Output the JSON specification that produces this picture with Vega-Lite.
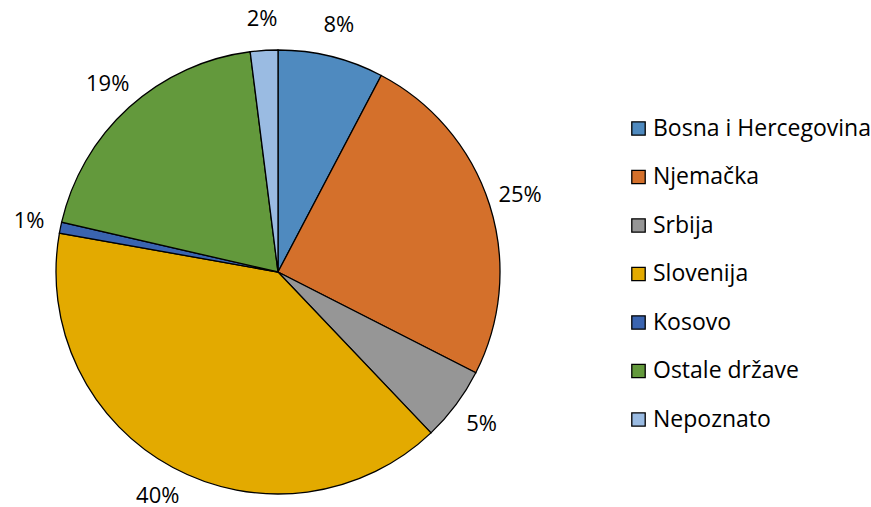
{
  "$schema": "https://vega.github.io/schema/vega-lite/v6.json",
  "autosize": "none",
  "width": 556,
  "height": 490,
  "padding": {"left": 0, "top": 27, "right": 315, "bottom": 0},
  "background": "white",
  "config": {"view": {"stroke": null}, "font": "Open Sans"},
  "data": {
    "values": [
      {"country": "Bosna i Hercegovina", "value": 7.7, "label": "8%", "order": 1},
      {"country": "Njemačka", "value": 24.8, "label": "25%", "order": 2},
      {"country": "Srbija", "value": 5.4, "label": "5%", "order": 3},
      {"country": "Slovenija", "value": 39.9, "label": "40%", "order": 4},
      {"country": "Kosovo", "value": 0.8, "label": "1%", "order": 5},
      {"country": "Ostale države", "value": 19.4, "label": "19%", "order": 6},
      {"country": "Nepoznato", "value": 2.0, "label": "2%", "order": 7}
    ]
  },
  "encoding": {
    "theta": {"field": "value", "type": "quantitative", "stack": true},
    "order": {"field": "order", "type": "quantitative"}
  },
  "layer": [
    {
      "mark": {"type": "arc", "outerRadius": 222, "stroke": "black", "strokeWidth": 1.3},
      "encoding": {
        "color": {
          "field": "country",
          "type": "nominal",
          "sort": null,
          "scale": {
            "domain": ["Bosna i Hercegovina", "Njemačka", "Srbija", "Slovenija", "Kosovo", "Ostale države", "Nepoznato"],
            "range": ["#4F8ABF", "#D4702B", "#969696", "#E3AA00", "#3A64B0", "#63993C", "#9ABBE2"]
          },
          "legend": {
            "title": null,
            "orient": "none",
            "legendX": 627,
            "legendY": 90,
            "symbolType": "square",
            "symbolSize": 180,
            "symbolStrokeColor": "black",
            "symbolStrokeWidth": 1.3,
            "labelFontSize": 23,
            "labelFont": "Open Sans",
            "labelColor": "black",
            "labelOffset": 3,
            "rowPadding": 24.5,
            "labelLimit": 300
          }
        }
      }
    },
    {
      "mark": {"type": "text", "radius": 254, "fontSize": 22, "font": "Open Sans", "color": "black"},
      "encoding": {
        "text": {"field": "label", "type": "nominal"}
      }
    }
  ]
}
